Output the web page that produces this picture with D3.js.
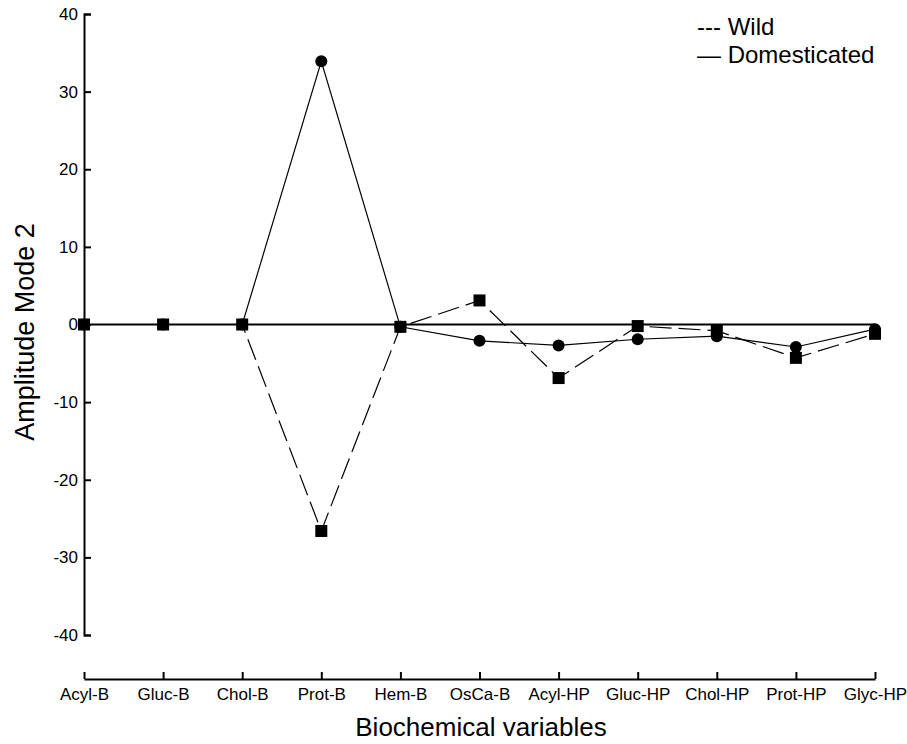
<!DOCTYPE html>
<html>
<head>
<meta charset="utf-8">
<script src="https://cdn.jsdelivr.net/npm/d3@7"></script>
<style>
  html, body { margin: 0; padding: 0; background: #fff; }
  svg { display: block; font-family: "Liberation Sans", Arial, sans-serif; }
</style>
</head>
<body>
<div id="chart"></div>
<script>
// Amplitude Mode 2 par variable biochimique
const categories = ['Acyl-B', 'Gluc-B', 'Chol-B', 'Prot-B', 'Hem-B', 'OsCa-B',
                    'Acyl-HP', 'Gluc-HP', 'Chol-HP', 'Prot-HP', 'Glyc-HP'];
const wildValues = [0, 0, 0, -26.6, -0.3, 3.1, -6.9, -0.2, -0.8, -4.3, -1.2];
const domesticatedValues = [0, 0, 0, 33.9, -0.3, -2.1, -2.7, -1.9, -1.5, -2.9, -0.6];
const yTicks = [-40, -30, -20, -10, 0, 10, 20, 30, 40];

const width = 907, height = 744;

const svg = d3.select('#chart')
    .append('svg')
    .attr('width', width)
    .attr('height', height);

const x = d3.scalePoint()
    .domain(categories)
    .range([84, 875]);

const y = d3.scaleLinear()
    .domain([-40, 40])
    .range([635, 14]);

// Axe Y
const yAxis = svg.append('g')
    .attr('transform', 'translate(84,0)')
    .call(d3.axisLeft(y)
        .tickValues(yTicks)
        .tickFormat(d => String(d))
        .tickSize(-7)
        .tickSizeOuter(-7)
        .tickPadding(6));
yAxis.select('.domain').attr('stroke-width', 2);
yAxis.selectAll('.tick line').attr('stroke-width', 2);
yAxis.selectAll('.tick text')
    .attr('font-size', 17)
    .attr('fill', '#000')
    .attr('font-family', '"Liberation Sans", Arial, sans-serif');

// Axe X
const xAxis = svg.append('g')
    .attr('transform', 'translate(0,679)')
    .call(d3.axisBottom(x)
        .tickSize(-7)
        .tickSizeOuter(0)
        .tickPadding(9));
xAxis.select('.domain').attr('stroke-width', 2);
xAxis.selectAll('.tick line').attr('stroke-width', 2);
xAxis.selectAll('.tick text')
    .attr('font-size', 17)
    .attr('fill', '#000')
    .attr('font-family', '"Liberation Sans", Arial, sans-serif');

// Ligne zéro
svg.append('line')
    .attr('x1', x(categories[0]))
    .attr('x2', x(categories[categories.length - 1]))
    .attr('y1', y(0))
    .attr('y2', y(0))
    .attr('stroke', '#000')
    .attr('stroke-width', 2);

const line = d3.line()
    .x((d, i) => x(categories[i]))
    .y(d => y(d));

// Domestiqué (trait plein)
svg.append('path')
    .datum(domesticatedValues)
    .attr('d', line)
    .attr('fill', 'none')
    .attr('stroke', '#000')
    .attr('stroke-width', 1.2);

// Sauvage (tirets)
svg.append('path')
    .datum(wildValues)
    .attr('d', line)
    .attr('fill', 'none')
    .attr('stroke', '#000')
    .attr('stroke-width', 1.2)
    .attr('stroke-dasharray', '22,7');

// Marqueurs
svg.append('g')
    .selectAll('circle')
    .data(domesticatedValues)
    .join('circle')
    .attr('cx', (d, i) => x(categories[i]))
    .attr('cy', d => y(d))
    .attr('r', 6)
    .attr('fill', '#000');

svg.append('g')
    .selectAll('rect')
    .data(wildValues)
    .join('rect')
    .attr('x', (d, i) => x(categories[i]) - 6)
    .attr('y', d => y(d) - 6)
    .attr('width', 12)
    .attr('height', 12)
    .attr('fill', '#000');

// Titres
svg.append('text')
    .attr('x', 481)
    .attr('y', 736)
    .attr('text-anchor', 'middle')
    .attr('font-size', 26)
    .text('Biochemical variables');

svg.append('text')
    .attr('transform', 'translate(34,332) rotate(-90)')
    .attr('text-anchor', 'middle')
    .attr('font-size', 27)
    .text('Amplitude Mode 2');

// Légende
svg.append('text')
    .attr('x', 697)
    .attr('y', 35)
    .attr('font-size', 24)
    .text('--- Wild');

svg.append('text')
    .attr('x', 697)
    .attr('y', 63)
    .attr('font-size', 24)
    .text('— Domesticated');
</script>
</body>
</html>
